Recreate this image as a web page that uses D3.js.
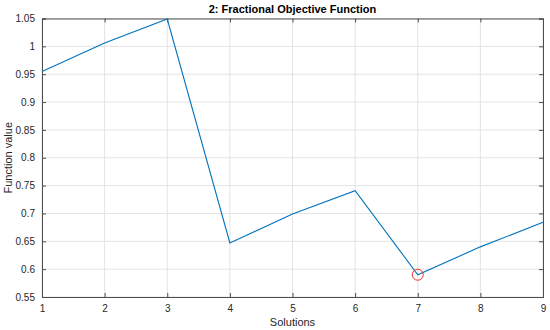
<!DOCTYPE html>
<html>
<head>
<meta charset="utf-8">
<script src="https://cdn.jsdelivr.net/npm/d3@7"></script>
<style>
body { margin: 0; background: #fff; }
text { font-family: "Liberation Sans", Arial, sans-serif; }
</style>
</head>
<body>
<div id="chart"></div>
<script>
// data
var solutions = [1, 2, 3, 4, 5, 6, 7, 8, 9];
var funcValues = [0.955, 1.006, 1.049, 0.647, 0.699, 0.741, 0.590, 0.640, 0.684];
var bestIndex = [6]; // solution 7 is circled
var xTicks = [1, 2, 3, 4, 5, 6, 7, 8, 9];
var yTicks = [0.55, 0.6, 0.65, 0.7, 0.75, 0.8, 0.85, 0.9, 0.95, 1, 1.05];

var width = 550, height = 330;
var margin = {top: 18.5, right: 7, bottom: 33, left: 42};
var axisColor = "#4d4d4d";

var svg = d3.select("#chart")
  .append("svg")
  .attr("width", width)
  .attr("height", height);

var x = d3.scaleLinear().domain([1, 9]).range([margin.left, width - margin.right]);
var y = d3.scaleLinear().domain([0.55, 1.05]).range([height - margin.bottom, margin.top]);

// grid
svg.append("g").selectAll("line")
  .data(xTicks)
  .enter().append("line")
  .attr("x1", function(d){ return x(d); })
  .attr("x2", function(d){ return x(d); })
  .attr("y1", y(0.55)).attr("y2", y(1.05))
  .attr("stroke", "#e3e3e3").attr("stroke-width", 1);

svg.append("g").selectAll("line")
  .data(yTicks)
  .enter().append("line")
  .attr("y1", function(d){ return y(d); })
  .attr("y2", function(d){ return y(d); })
  .attr("x1", x(1)).attr("x2", x(9))
  .attr("stroke", "#e3e3e3").attr("stroke-width", 1);

// axes (ticks inside, MATLAB style)
var fmt = function(d){ return d3.format("")(+d.toFixed(2)); };

var xAxis = svg.append("g")
  .attr("transform", "translate(0," + y(0.55) + ")")
  .call(d3.axisBottom(x).tickValues(xTicks).tickSize(-4).tickPadding(8).tickFormat(d3.format("d")));
var xTop = svg.append("g")
  .attr("transform", "translate(0," + y(1.05) + ")")
  .call(d3.axisTop(x).tickValues(xTicks).tickSize(-4).tickFormat(""));
var yAxis = svg.append("g")
  .attr("transform", "translate(" + x(1) + ",0)")
  .call(d3.axisLeft(y).tickValues(yTicks).tickSize(-4).tickPadding(7).tickFormat(fmt));
var yRight = svg.append("g")
  .attr("transform", "translate(" + x(9) + ",0)")
  .call(d3.axisRight(y).tickValues(yTicks).tickSize(-4).tickFormat(""));

[xAxis, xTop, yAxis, yRight].forEach(function(g){
  g.select(".domain").attr("stroke", axisColor).attr("stroke-width", 1);
  g.selectAll(".tick line").attr("stroke", axisColor);
  g.selectAll("text")
    .attr("fill", "#262626")
    .style("font-size", "10px")
    .style("font-family", "Liberation Sans, Arial, sans-serif");
});

// the line
var line = d3.line()
  .x(function(d, i){ return x(solutions[i]); })
  .y(function(d){ return y(d); });

svg.append("path")
  .datum(funcValues)
  .attr("fill", "none")
  .attr("stroke", "#0072BD")
  .attr("stroke-width", 1.1)
  .attr("d", line);

// red marker on best solution
svg.selectAll("circle.best")
  .data(bestIndex)
  .enter().append("circle")
  .attr("class", "best")
  .attr("cx", function(i){ return x(solutions[i]); })
  .attr("cy", function(i){ return y(funcValues[i]); })
  .attr("r", 5.5)
  .attr("fill", "none")
  .attr("stroke", "#e8302c")
  .attr("stroke-width", 1);

// title and labels
svg.append("text")
  .attr("x", (x(1) + x(9)) / 2)
  .attr("y", 13)
  .attr("text-anchor", "middle")
  .style("font-size", "11px")
  .style("font-weight", "bold")
  .attr("fill", "#000")
  .text("2: Fractional Objective Function");

svg.append("text")
  .attr("x", (x(1) + x(9)) / 2)
  .attr("y", 326)
  .attr("text-anchor", "middle")
  .style("font-size", "11px")
  .attr("fill", "#262626")
  .text("Solutions");

svg.append("text")
  .attr("transform", "translate(12," + ((y(0.55) + y(1.05)) / 2) + ") rotate(-90)")
  .attr("text-anchor", "middle")
  .style("font-size", "11px")
  .attr("fill", "#262626")
  .text("Function value");
</script>
</body>
</html>
